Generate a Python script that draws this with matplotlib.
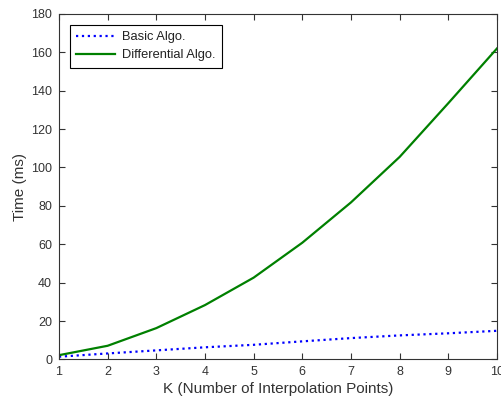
import matplotlib
matplotlib.use("Agg")
import matplotlib.pyplot as plt

plt.rcParams['font.family'] = ['Liberation Sans', 'DejaVu Sans']

k = [1, 2, 3, 4, 5, 6, 7, 8, 9, 10]
basic = [1.4, 3.1, 4.7, 6.3, 7.6, 9.4, 11.1, 12.5, 13.6, 14.9]
differential = [2.2, 7.1, 16.3, 28.3, 42.6, 60.8, 81.8, 105.5, 133.5, 162.0]
yticks = [0, 20, 40, 60, 80, 100, 120, 140, 160, 180]

fig = plt.figure(figsize=(5.02, 3.98), dpi=100)
ax = fig.add_axes([0.1175, 0.097, 0.8725, 0.868])
ax.plot(k, basic, color='#0000ff', linestyle=':', linewidth=1.6, label='Basic Algo.')
ax.plot(k, differential, color='#008000', linestyle='-', linewidth=1.6, label='Differential Algo.')
ax.set_xlim(1, 10)
ax.set_ylim(0, 180)
ax.set_xticks(k)
ax.set_yticks(yticks)
ax.tick_params(direction='in', top=True, right=True, labelsize=9, colors='#333333', length=4, pad=5)
for s in ax.spines.values():
    s.set_color('#333333')
ax.set_xlabel('K (Number of Interpolation Points)', fontsize=11, color='#333333', labelpad=2.5)
ax.set_ylabel('Time (ms)', fontsize=11, color='#333333', labelpad=3)
leg = ax.legend(loc='upper left', fontsize=9.3, frameon=True, fancybox=False, edgecolor='black',
                borderaxespad=0.85, handlelength=3.0, labelspacing=0.45, framealpha=1,
                borderpad=0.5, handletextpad=0.5)
leg.get_frame().set_linewidth(0.8)
for t in leg.get_texts():
    t.set_color('#222222')
fig.savefig('out.png', dpi=100)
